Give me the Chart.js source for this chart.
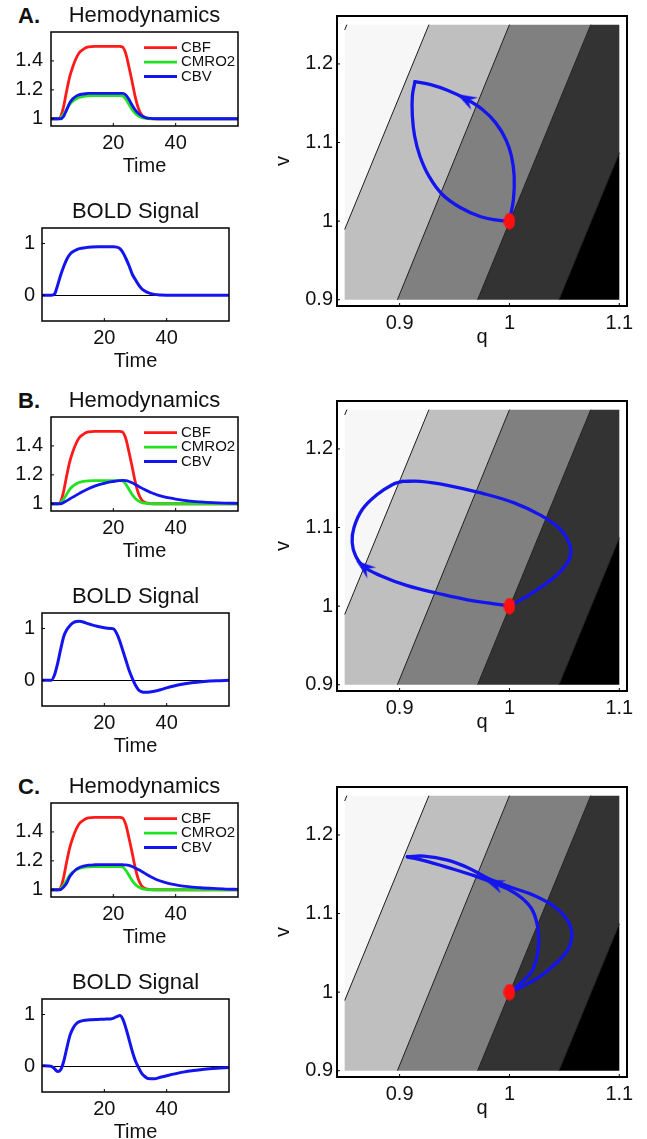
<!DOCTYPE html>
<html>
<head>
<meta charset="utf-8">
<script src="https://cdn.jsdelivr.net/npm/chart.js@4.4.0/dist/chart.umd.min.js"></script>
<style>
  html, body { margin: 0; padding: 0; background: #fff; overflow: hidden; width: 647px; height: 1139px; }
  canvas { position: absolute; }
  .tag { position: absolute; left: 18px; font: bold 22px "Liberation Sans", Arial, sans-serif; line-height: 22px; color: #111; }
</style>
</head>
<body>
<div class="tag" style="top:5px">A.</div>
<div class="tag" style="top:390px">B.</div>
<div class="tag" style="top:776px">C.</div>

<canvas id="hemoA" width="242" height="180" style="left:0;top:0"></canvas>
<canvas id="boldA" width="242" height="185" style="left:0;top:190px"></canvas>
<canvas id="phaseA" width="379" height="350" style="left:268px;top:0"></canvas>

<canvas id="hemoB" width="242" height="180" style="left:0;top:385px"></canvas>
<canvas id="boldB" width="242" height="185" style="left:0;top:575px"></canvas>
<canvas id="phaseB" width="379" height="350" style="left:268px;top:385px"></canvas>

<canvas id="hemoC" width="242" height="180" style="left:0;top:771px"></canvas>
<canvas id="boldC" width="242" height="185" style="left:0;top:961px"></canvas>
<canvas id="phaseC" width="379" height="350" style="left:268px;top:771px"></canvas>

<script>
// time courses (seconds)
const time = [0, 2, 3, 4, 5, 6, 7, 8, 9, 10, 11, 12, 14, 16, 18, 20, 22, 23, 24, 25, 26, 27, 28, 29, 30, 31, 32, 33, 34, 36, 38, 40, 44, 48, 52, 56, 60];
const cbf = [1, 1, 1.01, 1.08, 1.19, 1.29, 1.36, 1.415, 1.455, 1.475, 1.49, 1.497, 1.5, 1.5, 1.5, 1.5, 1.5, 1.495, 1.45, 1.36, 1.26, 1.155, 1.075, 1.03, 1.01, 1.004, 1.001, 1, 1, 1, 1, 1, 1, 1, 1, 1, 1];
const cmro2 = [1, 1, 1.005, 1.03, 1.065, 1.1, 1.122, 1.137, 1.147, 1.153, 1.157, 1.159, 1.16, 1.16, 1.16, 1.16, 1.16, 1.157, 1.135, 1.1, 1.065, 1.038, 1.02, 1.01, 1.004, 1.001, 1, 1, 1, 1, 1, 1, 1, 1, 1, 1, 1];
const cbvA = [1, 1, 1, 1.015, 1.06, 1.11, 1.138, 1.155, 1.165, 1.17, 1.173, 1.175, 1.176, 1.176, 1.176, 1.176, 1.176, 1.176, 1.165, 1.135, 1.095, 1.062, 1.038, 1.022, 1.011, 1.005, 1.002, 1.001, 1, 1, 1, 1, 1, 1, 1, 1, 1];
const cbvB = [1, 1, 1, 1.008, 1.02, 1.033, 1.046, 1.058, 1.07, 1.083, 1.094, 1.104, 1.122, 1.136, 1.147, 1.154, 1.16, 1.162, 1.16, 1.154, 1.145, 1.134, 1.122, 1.11, 1.099, 1.088, 1.078, 1.07, 1.062, 1.05, 1.04, 1.032, 1.02, 1.013, 1.008, 1.005, 1.003];
const cbvC = [1, 1, 1, 1.018, 1.045, 1.09, 1.118, 1.14, 1.153, 1.161, 1.166, 1.17, 1.173, 1.174, 1.174, 1.174, 1.174, 1.173, 1.172, 1.168, 1.161, 1.151, 1.14, 1.128, 1.115, 1.102, 1.09, 1.079, 1.069, 1.054, 1.042, 1.034, 1.021, 1.014, 1.009, 1.005, 1.003];
const boldA = [0, 0, 0, 0.02, 0.19, 0.39, 0.56, 0.7, 0.795, 0.845, 0.878, 0.9, 0.92, 0.93, 0.935, 0.935, 0.935, 0.935, 0.93, 0.9, 0.82, 0.7, 0.56, 0.4, 0.3, 0.2, 0.125, 0.08, 0.05, 0.015, 0.003, 0, 0, 0, 0, 0, 0];
const boldB = [0, 0, 0, 0.1, 0.32, 0.6, 0.85, 0.98, 1.06, 1.11, 1.135, 1.14, 1.11, 1.07, 1.04, 1.015, 1.0, 0.99, 0.9, 0.75, 0.56, 0.37, 0.18, 0.03, -0.1, -0.19, -0.225, -0.235, -0.235, -0.215, -0.185, -0.15, -0.09, -0.05, -0.025, -0.01, -0.003];
const boldC = [0.01, 0.005, -0.005, -0.05, -0.105, -0.07, 0.1, 0.36, 0.6, 0.74, 0.82, 0.86, 0.89, 0.9, 0.905, 0.91, 0.915, 0.93, 0.96, 0.98, 0.9, 0.72, 0.5, 0.28, 0.1, -0.03, -0.14, -0.2, -0.24, -0.245, -0.215, -0.185, -0.13, -0.09, -0.058, -0.038, -0.025];

const hemoTicksX = [20, 40];
const hemoTicksY = [1, 1.2, 1.4];
const boldTicksY = [0, 1];
const phaseTicksQ = [0.9, 1, 1.1];
const phaseTicksV = [0.9, 1, 1.1, 1.2];

// (q, v) trajectories, split at the plateau corner
const onsetQA = [1.0, 1.0036, 1.0043, 1.0018, 0.9967, 0.9875, 0.9754, 0.9602, 0.9435, 0.9283, 0.914];
const onsetVA = [1.0, 1.0275, 1.0572, 1.0826, 1.1038, 1.125, 1.142, 1.1555, 1.1665, 1.1737, 1.1775];
const offsetQA = [0.914, 0.9116, 0.9116, 0.9137, 0.9185, 0.9267, 0.9389, 0.9556, 0.9739, 0.9891, 1.0];
const offsetVA = [1.1775, 1.159, 1.1335, 1.108, 1.0826, 1.0572, 1.0339, 1.017, 1.0055, 1.0013, 1.0];

const onsetQB = [1.0, 0.986, 0.9617, 0.9343, 0.907, 0.8827, 0.8675, 0.8599, 0.8568, 0.8584, 0.866, 0.8796, 0.8933, 0.9024];
const onsetVB = [1.0, 1.003, 1.008, 1.0164, 1.026, 1.0387, 1.05, 1.064, 1.081, 1.0998, 1.123, 1.142, 1.1545, 1.1587];
const offsetQB = [0.9024, 0.9191, 0.9435, 0.9739, 1.0043, 1.0286, 1.0453, 1.0535, 1.0559, 1.0529, 1.0407, 1.024, 1.0103, 1.0];
const offsetVB = [1.1587, 1.1587, 1.1537, 1.144, 1.1314, 1.1154, 1.099, 1.083, 1.0703, 1.0556, 1.0366, 1.0198, 1.008, 1.0];

const onsetQC = [1.0, 1.0103, 1.021, 1.0261, 1.0261, 1.021, 1.0103, 0.9982, 0.986, 0.9678, 0.9435, 0.9222, 0.907];
const onsetVC = [1.0, 1.0114, 1.0282, 1.0535, 1.0787, 1.104, 1.1208, 1.1314, 1.1385, 1.1482, 1.1587, 1.1672, 1.1722];
const offsetQC = [0.907, 0.9222, 0.9435, 0.9617, 0.9799, 1.0012, 1.0225, 1.0407, 1.0529, 1.0568, 1.0529, 1.0407, 1.0255, 1.0103, 1.0];
const offsetVC = [1.1722, 1.173, 1.168, 1.1587, 1.1453, 1.1335, 1.123, 1.109, 1.0914, 1.0724, 1.0535, 1.0345, 1.0177, 1.0063, 1.0];

const restQ = [1];
const restV = [1];

// contour boundaries of the background: q where each line meets v = 0.9 and v = 1.25
const bandQBottom = [0.749, 0.8237, 0.898, 0.971, 1.045];
const bandQTop = [0.852, 0.9267, 1.0, 1.074, 1.148];
const fieldQ = [0.85, 1.1];
const fieldV = [0.9, 1.25];

const FONT = '"Liberation Sans", Arial, Helvetica, sans-serif';
const RED = '#ff1a1a', GREEN = '#22e022', BLUE = '#1414ee';
const bandColors = ['#f7f7f7', '#f7f7f7', '#bfbfbf', '#808080', '#333333', '#000000'];

Chart.defaults.font.family = FONT;
Chart.defaults.color = '#111';
Chart.defaults.animation = false;
Chart.defaults.events = [];
Chart.defaults.plugins.legend.display = false;
Chart.defaults.plugins.tooltip.enabled = false;

function pairs(xs, ys) {
  return xs.map((x, i) => ({ x: x, y: ys[i] }));
}
function fixedTicks(values) {
  return scale => { scale.ticks = values.map(v => ({ value: v })); };
}
function fixedSize(px) {
  return scale => { if (scale.isHorizontal()) scale.height = px; else scale.width = px; };
}

// box around the plot area with small inward ticks (bottom and left)
const framePlugin = {
  id: 'frame',
  defaults: { width: 1.5, tick: 3 },
  afterDatasetsDraw(chart, args, o) {
    const a = chart.chartArea, ctx = chart.ctx;
    const sx = chart.scales.x, sy = chart.scales.y;
    ctx.save();
    ctx.strokeStyle = '#000';
    ctx.lineWidth = 1;
    ctx.beginPath();
    sx.ticks.forEach(t => {
      const px = sx.getPixelForValue(t.value);
      ctx.moveTo(px, a.bottom); ctx.lineTo(px, a.bottom - o.tick);
    });
    sy.ticks.forEach(t => {
      const py = sy.getPixelForValue(t.value);
      ctx.moveTo(a.left, py); ctx.lineTo(a.left + o.tick, py);
    });
    ctx.stroke();
    ctx.lineWidth = o.width;
    ctx.strokeRect(a.left, a.top, a.right - a.left, a.bottom - a.top);
    ctx.restore();
  }
};

// legend drawn inside the plot box, top right
const boxLegend = {
  id: 'boxLegend',
  afterDatasetsDraw(chart, args, o) {
    const a = chart.chartArea, ctx = chart.ctx;
    ctx.save();
    ctx.font = o.size + 'px ' + FONT;
    ctx.textBaseline = 'middle';
    ctx.textAlign = 'left';
    chart.data.datasets.forEach((ds, i) => {
      const y = a.top + o.first + i * o.gap;
      ctx.strokeStyle = ds.borderColor;
      ctx.lineWidth = ds.borderWidth;
      ctx.beginPath();
      ctx.moveTo(a.left + o.lineStart, y);
      ctx.lineTo(a.left + o.lineStart + o.lineLength, y);
      ctx.stroke();
      ctx.fillStyle = '#111';
      ctx.fillText(ds.label, a.left + o.textStart, y);
    });
    ctx.restore();
  }
};

function timeAxis() {
  return {
    type: 'linear', min: 0, max: 60,
    afterBuildTicks: fixedTicks(hemoTicksX),
    afterFit: fixedSize(54),
    grid: { display: false, drawTicks: false },
    border: { display: false },
    ticks: { padding: 5, font: { size: 20 }, autoSkip: false, maxRotation: 0, callback: v => String(v) },
    title: { display: true, text: 'Time', font: { size: 20 }, padding: { top: 0, bottom: 2 } }
  };
}

function hemoChart(id, cbv) {
  new Chart(document.getElementById(id), {
    type: 'line',
    data: {
      datasets: [
        { label: 'CBF', data: pairs(time, cbf), borderColor: RED, borderWidth: 2.8, order: 3 },
        { label: 'CMRO2', data: pairs(time, cmro2), borderColor: GREEN, borderWidth: 2.8, order: 2 },
        { label: 'CBV', data: pairs(time, cbv), borderColor: BLUE, borderWidth: 2.8, order: 1 }
      ].map(d => Object.assign(d, { pointRadius: 0, cubicInterpolationMode: 'monotone', fill: false }))
    },
    options: {
      responsive: false,
      layout: { padding: { left: 0, right: 4, top: 0, bottom: 0 } },
      scales: {
        x: timeAxis(),
        y: {
          min: 0.95, max: 1.6,
          afterBuildTicks: fixedTicks(hemoTicksY),
          afterFit: fixedSize(51),
          grid: { display: false, drawTicks: false },
          border: { display: false },
          ticks: { padding: 8, font: { size: 20 }, callback: v => String(v) }
        }
      },
      plugins: {
        title: { display: true, text: 'Hemodynamics', fullSize: false, color: '#111',
                 font: { size: 22, weight: 'normal' }, padding: { top: 3.1, bottom: 2.5 } },
        frame: { width: 1.5, tick: 3 },
        boxLegend: { size: 15, first: 15.7, gap: 14.4, lineStart: 93, lineLength: 33, textStart: 130 }
      }
    },
    plugins: [framePlugin, boxLegend]
  });
}

function boldChart(id, bold) {
  new Chart(document.getElementById(id), {
    type: 'line',
    data: {
      datasets: [{ label: 'BOLD', data: pairs(time, bold), borderColor: BLUE, borderWidth: 3,
                   pointRadius: 0, cubicInterpolationMode: 'monotone', fill: false }]
    },
    options: {
      responsive: false,
      layout: { padding: { left: 0, right: 13, top: 0, bottom: 0 } },
      scales: {
        x: timeAxis(),
        y: {
          min: -0.5, max: 1.3,
          afterBuildTicks: fixedTicks(boldTicksY),
          afterFit: fixedSize(42),
          grid: { display: true, drawTicks: false, lineWidth: 1,
                  color: c => (c.tick && c.tick.value === 0 ? '#000' : 'rgba(0,0,0,0)') },
          border: { display: false },
          ticks: { padding: 7, font: { size: 20 }, callback: v => String(v) }
        }
      },
      plugins: {
        title: { display: true, text: 'BOLD Signal', fullSize: false, color: '#111',
                 font: { size: 22, weight: 'normal' }, padding: { top: 8.8, bottom: 2.8 } },
        frame: { width: 1.5, tick: 3 }
      }
    },
    plugins: [framePlugin]
  });
}

// ---- background bands of the phase plane ----
function boundaryQ(i, v) {
  return bandQBottom[i] + (bandQTop[i] - bandQBottom[i]) * (v - fieldV[0]) / (fieldV[1] - fieldV[0]);
}
function clipPoly(poly, f) {
  const out = [];
  for (let k = 0; k < poly.length; k++) {
    const a = poly[k], b = poly[(k + 1) % poly.length];
    const fa = f(a), fb = f(b);
    if (fa <= 0) out.push(a);
    if ((fa < 0 && fb > 0) || (fa > 0 && fb < 0)) {
      const t = fa / (fa - fb);
      out.push({ x: a.x + t * (b.x - a.x), y: a.y + t * (b.y - a.y) });
    }
  }
  return out;
}
function bandPolygons() {
  const rect = [
    { x: fieldQ[0], y: fieldV[0] }, { x: fieldQ[1], y: fieldV[0] },
    { x: fieldQ[1], y: fieldV[1] }, { x: fieldQ[0], y: fieldV[1] }
  ];
  const n = bandQBottom.length, polys = [];
  for (let k = 0; k <= n; k++) {
    let p = rect;
    if (k > 0) p = clipPoly(p, pt => boundaryQ(k - 1, pt.y) - pt.x);
    if (k < n) p = clipPoly(p, pt => pt.x - boundaryQ(k, pt.y));
    polys.push(p);
  }
  return polys;
}
function contourSegments() {
  return bandQBottom.map((q0, i) => {
    const q1 = bandQTop[i];
    const t0 = Math.max(0, (fieldQ[0] - q0) / (q1 - q0));
    const t1 = Math.min(1, (fieldQ[1] - q0) / (q1 - q0));
    const at = t => ({ x: q0 + t * (q1 - q0), y: fieldV[0] + t * (fieldV[1] - fieldV[0]) });
    return t1 > t0 ? [at(t0), at(t1)] : [];
  });
}

function makeArrow(color) {
  const c = document.createElement('canvas');
  c.width = 16; c.height = 20;
  const g = c.getContext('2d');
  g.fillStyle = color;
  g.beginPath();
  g.moveTo(8, 0); g.lineTo(15, 20); g.lineTo(8, 13); g.lineTo(1, 20);
  g.closePath(); g.fill();
  return c;
}
function makeDot(color) {
  const c = document.createElement('canvas');
  c.width = 12; c.height = 17;
  const g = c.getContext('2d');
  g.fillStyle = color;
  g.beginPath(); g.ellipse(6, 8.5, 5.8, 8.3, 0, 0, Math.PI * 2); g.fill();
  return c;
}
const arrowImg = makeArrow(BLUE);
const dotImg = makeDot('#ff1010');

function arrowAngle(chart, qs, vs, i) {
  const sx = chart.scales.x, sy = chart.scales.y;
  const dx = sx.getPixelForValue(qs[i + 1]) - sx.getPixelForValue(qs[i - 1]);
  const dy = sy.getPixelForValue(vs[i + 1]) - sy.getPixelForValue(vs[i - 1]);
  return Math.atan2(dx, -dy) * 180 / Math.PI;
}

function phaseChart(id, onQ, onV, offQ, offV, arrowAt) {
  const datasets = [];
  bandPolygons().forEach((poly, k) => datasets.push({
    data: poly, showLine: true, fill: 'shape', backgroundColor: bandColors[k],
    borderWidth: 0, pointRadius: 0, tension: 0, order: 10
  }));
  contourSegments().forEach(seg => datasets.push({
    data: seg, showLine: true, fill: false, borderColor: '#1a1a1a', borderWidth: 1, pointRadius: 0, order: 5
  }));
  [[onQ, onV], [offQ, offV]].forEach(([qs, vs]) => datasets.push({
    data: pairs(qs, vs), showLine: true, fill: false, borderColor: BLUE, borderWidth: 3.3,
    borderCapStyle: 'round', borderJoinStyle: 'round', tension: 0.4, pointRadius: 0, order: 2
  }));
  datasets.push({
    data: [{ x: onQ[arrowAt], y: onV[arrowAt] }], pointStyle: arrowImg, pointRadius: 8,
    pointRotation: c => arrowAngle(c.chart, onQ, onV, arrowAt), order: 1
  });
  datasets.push({ data: pairs(restQ, restV), pointStyle: dotImg, pointRadius: 6, order: 0 });

  new Chart(document.getElementById(id), {
    type: 'scatter',
    data: { datasets: datasets },
    options: {
      responsive: false,
      layout: { padding: { left: 0, right: 20, top: 16, bottom: 0 } },
      scales: {
        x: {
          type: 'linear', min: 0.843, max: 1.107,
          afterBuildTicks: fixedTicks(phaseTicksQ),
          afterFit: fixedSize(44),
          grid: { display: false, drawTicks: false },
          border: { display: false },
          ticks: { padding: 5, font: { size: 20 }, autoSkip: false, maxRotation: 0, callback: v => String(v) },
          title: { display: true, text: 'q', font: { size: 20 }, padding: { top: 0, bottom: 1 } }
        },
        y: {
          type: 'linear', min: 0.892, max: 1.261,
          afterBuildTicks: fixedTicks(phaseTicksV),
          afterFit: fixedSize(69),
          grid: { display: false, drawTicks: false },
          border: { display: false },
          ticks: { padding: 4, font: { size: 20 }, callback: v => String(v) },
          title: { display: true, text: 'v', font: { size: 20 }, padding: { top: 3, bottom: 0 } }
        }
      },
      plugins: { frame: { width: 2, tick: 3 } }
    },
    plugins: [framePlugin]
  });
}

hemoChart('hemoA', cbvA);
boldChart('boldA', boldA);
phaseChart('phaseA', onsetQA, onsetVA, offsetQA, offsetVA, 7);

hemoChart('hemoB', cbvB);
boldChart('boldB', boldB);
phaseChart('phaseB', onsetQB, onsetVB, offsetQB, offsetVB, 6);

hemoChart('hemoC', cbvC);
boldChart('boldC', boldC);
phaseChart('phaseC', onsetQC, onsetVC, offsetQC, offsetVC, 8);
</script>
</body>
</html>
